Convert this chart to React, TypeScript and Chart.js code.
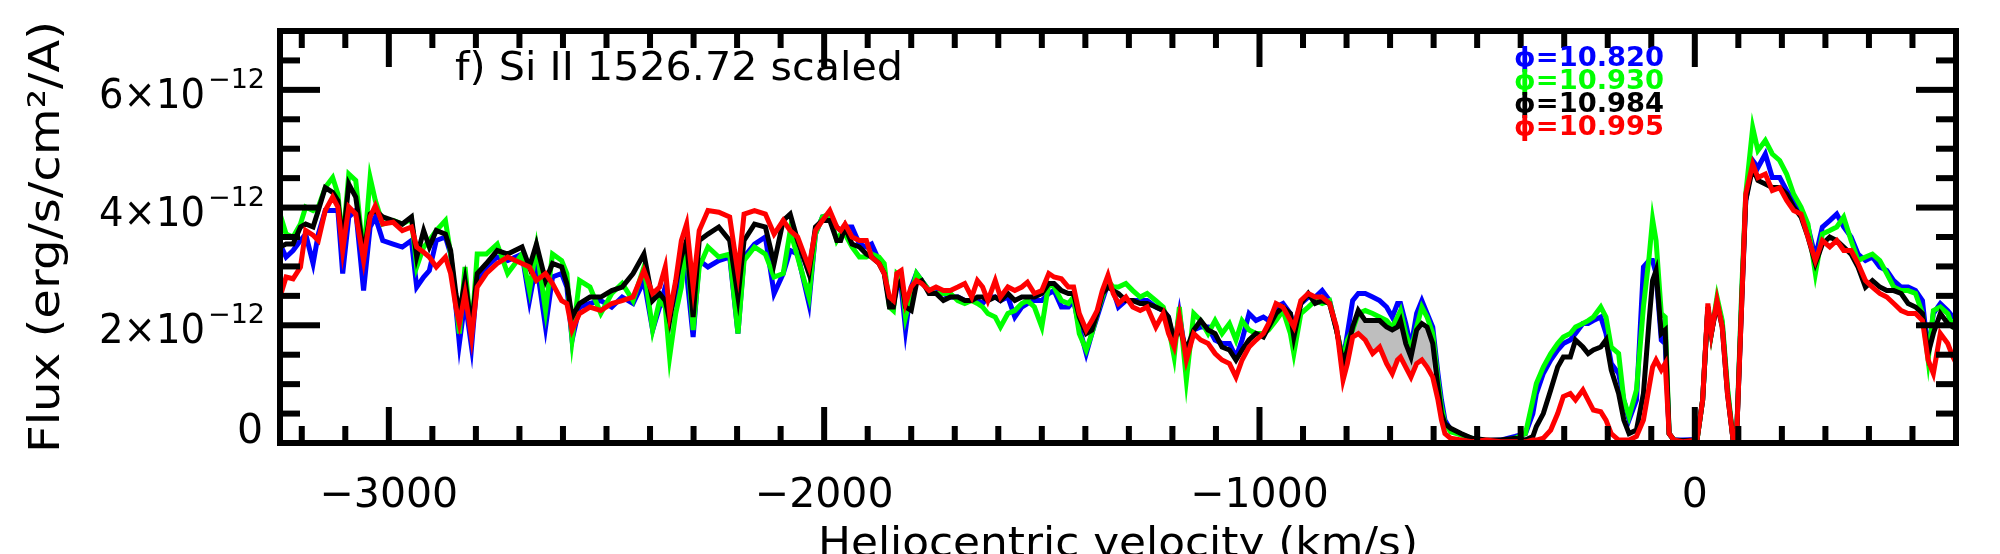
import React, { useEffect, useRef } from "react";
import { Chart, registerables } from "chart.js";

Chart.register(...registerables);

// Heliocentric velocity grid (km/s)
const velocityKms = [
  -3250, -3236, -3220, -3203, -3191, -3174, -3162, -3146, -3129, -3117,
  -3106, -3092, -3076, -3058, -3043, -3031, -3014, -2990, -2969, -2948,
  -2936, -2920, -2907, -2891, -2870, -2858, -2846, -2838, -2825, -2810,
  -2797, -2776, -2751, -2727, -2694, -2677, -2661, -2640, -2624, -2603,
  -2591, -2579, -2562, -2538, -2513, -2488, -2464, -2439, -2414, -2394,
  -2378, -2365, -2355, -2341, -2328, -2316, -2301, -2287, -2267, -2242,
  -2217, -2198, -2184, -2160, -2135, -2115, -2094, -2078, -2061, -2035,
  -2020, -2004, -1987, -1971,
  -1962, -1952, -1936, -1919, -1903, -1891, -1874, -1862, -1850, -1841,
  -1833, -1823, -1813, -1800, -1788, -1776, -1759, -1743, -1726, -1710,
  -1693, -1677, -1661, -1648, -1636, -1624, -1607, -1595, -1578, -1562,
  -1546, -1533, -1517, -1500, -1484, -1472, -1455, -1439, -1427, -1414,
  -1398, -1385, -1373, -1361, -1348, -1336, -1324, -1307, -1291, -1274,
  -1258, -1238, -1221, -1209, -1196, -1184, -1168, -1151, -1135, -1118,
  -1102, -1086, -1069, -1054, -1040, -1024, -1008, -991, -979, -962,
  -946, -929, -921, -905, -888, -872, -856, -839, -823, -808,
  -798, -786, -773, -757, -740, -724, -708, -695, -683,
  -676, -664, -652, -639, -627, -615, -602, -590, -582, -574,
  -561, -537, -512, -479, -446, -413, -389, -372, -364, -348,
  -331, -315, -302, -286, -274, -257, -245, -233, -216, -204,
  -192, -175, -163, -151, -134, -118, -105, -97, -89, -77,
  -68, -59, -48, -27, 5, 18, 30, 38, 51, 63,
  75, 88, 96, 108, 117, 133, 145, 162, 178, 195,
  211, 227, 244, 260, 277, 293, 310, 326, 342, 359,
  375, 392, 408, 425, 441, 457, 474, 490, 507, 523,
  536, 548, 564, 581, 593, 605,
];

// Flux in units of 1e-12 erg/s/cm^2/A
// phi = 10.820 (blue)
const fluxPhi10820 = [
  3.38, 3.16, 3.27, 3.44, 3.55, 3.05, 3.55, 3.95, 3.95, 3.95,
  2.88, 3.84, 3.95, 2.59, 3.67, 3.84, 3.44, 3.38, 3.33, 3.44,
  2.65, 2.82, 2.93, 3.44, 3.50, 3.21, 2.31, 1.69, 2.42, 1.63,
  2.76, 2.99, 3.16, 3.10, 3.21, 2.42, 3.05, 1.97, 2.82, 2.88,
  2.65, 1.75, 2.31, 2.37, 2.42, 2.31, 2.48, 2.37, 2.76, 1.92,
  2.31, 2.65, 2.20, 2.48, 2.99, 2.88, 1.80, 3.10, 2.99, 3.10,
  3.16, 1.86, 3.16, 3.38, 3.50, 2.54, 2.88, 3.27, 3.21, 2.37,
  3.55, 3.84, 3.84, 3.67,
  3.61, 3.67, 3.67, 3.38, 3.33, 3.38, 3.10, 2.93, 2.37, 2.31,
  2.76, 2.65, 1.92, 2.65, 2.88, 2.76, 2.59, 2.59, 2.54, 2.48,
  2.48, 2.42, 2.42, 2.42, 2.37, 2.48, 2.48, 2.42, 2.48, 2.14,
  2.31, 2.37, 2.42, 2.42, 2.54, 2.59, 2.31, 2.31, 2.42, 1.97,
  1.52, 1.86, 2.14, 2.42, 2.71, 2.59, 2.31, 2.42, 2.42, 2.42,
  2.42, 2.31, 2.25, 2.14, 1.63, 2.20, 1.41, 1.92, 1.97, 1.97,
  1.75, 1.69, 1.69, 1.46, 1.75, 2.20, 2.08, 2.14, 2.08, 2.31,
  2.37, 2.20, 1.97, 2.37, 2.48, 2.48, 2.59, 2.42, 1.92, 1.41,
  1.86, 2.42, 2.54, 2.54, 2.48, 2.42, 2.31, 2.14, 2.37,
  2.37, 2.03, 1.63, 2.20, 2.42, 2.20, 1.97, 1.18, 0.73, 0.39,
  0.22, 0.14, 0.08, 0.04, 0.05, 0.11, 0.16, 0.50, 0.84, 1.18,
  1.41, 1.58, 1.69, 1.75, 1.86, 2.03, 2.03, 2.08, 2.14, 1.86,
  1.35, 1.18, 0.73, 0.39, 0.73, 2.99, 3.10, 3.10, 2.88, 1.75,
  1.69, 0.16, 0.05, 0.05, 0.06, 0.73, 2.31, 1.86, 2.42, 2.03,
  0.90, 0.05, 0.11, 2.54, 4.12, 4.80, 4.68, 4.91, 4.51, 4.51,
  4.29, 4.12, 3.89, 3.67, 3.16, 3.67, 3.78, 3.89, 3.67, 3.50,
  3.21, 3.10, 3.16, 2.99, 2.93, 2.76, 2.65, 2.65, 2.59, 2.42,
  1.52, 2.20, 2.37, 2.25, 2.14, 2.14,
];

// phi = 10.930 (green)
const fluxPhi10930 = [
  3.89, 3.55, 3.50, 3.72, 4.01, 3.95, 4.01, 4.34, 4.51, 4.23,
  3.38, 4.57, 4.46, 3.16, 4.51, 4.12, 3.72, 3.78, 3.72, 3.81,
  2.99, 3.33, 3.44, 3.61, 3.78, 3.21, 2.42, 1.86, 2.99, 1.86,
  3.21, 3.21, 3.38, 2.88, 3.21, 2.59, 3.33, 2.25, 3.21, 3.10,
  2.88, 1.75, 2.76, 2.65, 2.20, 2.54, 2.71, 2.42, 2.99, 1.92,
  2.42, 2.31, 1.46, 2.20, 2.65, 3.44, 1.92, 2.99, 3.33, 3.16,
  3.21, 1.86, 3.10, 3.33, 3.21, 2.82, 2.88, 3.61, 3.16, 2.48,
  3.55, 3.84, 3.89, 3.44,
  3.55, 3.55, 3.33, 3.16, 3.16, 3.21, 3.16, 3.05, 2.31, 2.25,
  2.88, 2.82, 2.14, 2.54, 2.88, 2.76, 2.59, 2.54, 2.54, 2.54,
  2.42, 2.37, 2.42, 2.37, 2.31, 2.20, 2.14, 1.97, 2.20, 2.25,
  2.37, 2.42, 2.31, 1.97, 2.71, 2.65, 2.42, 2.37, 2.48, 1.86,
  1.58, 1.86, 2.20, 2.48, 2.76, 2.65, 2.65, 2.71, 2.59, 2.48,
  2.54, 2.42, 2.31, 1.97, 1.46, 2.31, 1.07, 2.20, 2.08, 1.86,
  2.08, 1.86, 2.03, 1.75, 2.08, 1.92, 1.86, 1.86, 1.92, 2.08,
  2.25, 1.86, 1.52, 2.20, 2.31, 2.42, 2.37, 2.42, 1.92, 1.41,
  1.75, 1.92, 2.20, 2.25, 2.20, 2.14, 2.08, 1.97, 2.14,
  2.25, 1.86, 1.58, 1.97, 2.31, 2.14, 1.86, 1.07, 0.62, 0.33,
  0.19, 0.14, 0.08, 0.04, 0.03, 0.08, 0.16, 0.73, 1.01, 1.29,
  1.52, 1.69, 1.80, 1.86, 1.97, 2.03, 2.08, 2.14, 2.31, 2.14,
  1.63, 1.52, 0.73, 0.45, 0.90, 2.31, 3.16, 3.80, 3.44, 2.20,
  2.14, 0.16, 0.05, 0.02, 0.04, 0.73, 2.31, 1.86, 2.48, 2.08,
  0.95, 0.05, 0.11, 2.65, 4.23, 5.36, 4.97, 5.14, 4.91, 4.80,
  4.57, 4.23, 4.01, 3.72, 2.88, 3.55, 3.61, 3.67, 3.84, 3.44,
  3.10, 3.16, 3.21, 3.10, 2.88, 2.65, 2.59, 2.59, 2.54, 2.20,
  1.41, 2.25, 2.31, 2.20, 1.97, 1.92,
];

// phi = 10.984 (black)
const fluxPhi10984 = [
  3.33, 3.38, 3.38, 3.67, 3.72, 3.67, 3.95, 4.34, 4.26, 4.12,
  3.38, 4.40, 4.18, 3.21, 3.89, 3.95, 3.84, 3.78, 3.72, 3.84,
  3.16, 3.61, 3.33, 3.61, 3.55, 3.27, 2.54, 2.20, 2.76, 1.97,
  2.88, 3.05, 3.27, 3.21, 3.33, 2.99, 3.38, 2.76, 3.05, 2.99,
  2.71, 2.14, 2.37, 2.48, 2.48, 2.59, 2.65, 2.88, 3.21, 2.42,
  2.54, 2.42, 2.08, 2.71, 3.16, 3.44, 2.14, 3.44, 3.55, 3.67,
  3.44, 2.48, 3.44, 3.72, 3.67, 3.05, 3.78, 3.89, 3.44, 2.88,
  3.67, 3.78, 3.78, 3.44,
  3.44, 3.67, 3.38, 3.33, 3.21, 3.16, 3.05, 2.88, 2.31, 2.31,
  2.65, 2.76, 2.31, 2.25, 2.71, 2.76, 2.54, 2.54, 2.42, 2.48,
  2.48, 2.42, 2.42, 2.48, 2.48, 2.42, 2.48, 2.42, 2.54, 2.42,
  2.48, 2.48, 2.48, 2.54, 2.71, 2.71, 2.59, 2.54, 2.54, 2.14,
  1.86, 1.92, 2.20, 2.54, 2.65, 2.59, 2.54, 2.42, 2.42, 2.37,
  2.37, 2.31, 2.25, 2.14, 1.75, 1.97, 1.58, 1.92, 2.08, 1.92,
  1.86, 1.63, 1.58, 1.41, 1.58, 1.75, 1.86, 1.80, 1.97, 2.20,
  2.31, 2.20, 1.80, 2.37, 2.54, 2.37, 2.42, 2.37, 1.92, 1.35,
  1.58, 1.97, 2.25, 2.08, 2.08, 2.08, 1.97, 1.92, 1.97,
  2.08, 1.69, 1.46, 1.92, 2.03, 1.97, 1.69, 0.95, 0.50, 0.33,
  0.25, 0.16, 0.08, 0.05, 0.05, 0.08, 0.05, 0.11, 0.28, 0.50,
  0.90, 1.29, 1.46, 1.46, 1.75, 1.63, 1.52, 1.58, 1.63, 1.75,
  1.24, 0.84, 0.39, 0.16, 0.22, 0.84, 2.08, 2.76, 2.93, 1.86,
  1.92, 0.16, 0.05, 0.04, 0.05, 0.73, 2.31, 1.86, 2.37, 1.97,
  0.84, 0.05, 0.11, 2.42, 4.12, 4.68, 4.46, 4.40, 4.34, 4.34,
  4.23, 4.01, 3.84, 3.50, 3.05, 3.38, 3.50, 3.44, 3.33, 3.21,
  2.99, 2.65, 2.76, 2.65, 2.59, 2.59, 2.54, 2.37, 2.31, 2.20,
  1.52, 1.86, 2.20, 2.03, 1.97, 1.97,
];

// phi = 10.995 (red)
const fluxPhi10995 = [
  2.48, 2.82, 2.79, 2.99, 3.61, 3.53, 3.44, 3.95, 4.18, 4.01,
  3.27, 4.01, 3.89, 3.10, 3.84, 4.03, 3.72, 3.75, 3.61, 3.67,
  3.33, 3.24, 3.16, 2.99, 3.16, 2.88, 2.31, 2.03, 2.54, 1.80,
  2.65, 2.88, 3.05, 3.16, 3.05, 2.99, 2.76, 2.88, 2.71, 2.42,
  2.37, 1.92, 2.20, 2.31, 2.25, 2.37, 2.42, 2.48, 2.93, 2.54,
  2.65, 2.99, 2.20, 2.76, 3.44, 3.72, 2.65, 3.61, 3.95, 3.92,
  3.84, 2.88, 3.89, 3.95, 3.89, 3.55, 3.78, 3.61, 3.50, 2.99,
  3.61, 3.78, 3.95, 3.67,
  3.61, 3.72, 3.50, 3.44, 3.44, 3.16, 3.05, 2.88, 2.48, 2.42,
  2.88, 2.93, 2.37, 2.65, 2.76, 2.71, 2.59, 2.65, 2.59, 2.59,
  2.65, 2.71, 2.48, 2.76, 2.65, 2.42, 2.76, 2.48, 2.65, 2.59,
  2.65, 2.73, 2.54, 2.59, 2.88, 2.82, 2.79, 2.65, 2.65, 2.20,
  1.92, 2.08, 2.25, 2.59, 2.85, 2.54, 2.37, 2.48, 2.31, 2.25,
  2.31, 1.97, 2.20, 1.86, 1.63, 2.14, 1.41, 1.86, 1.75, 1.69,
  1.52, 1.41, 1.35, 1.12, 1.41, 1.63, 1.75, 1.86, 2.03, 2.37,
  2.31, 2.08, 1.97, 2.42, 2.54, 2.48, 2.48, 2.37, 1.97, 1.07,
  1.35, 1.80, 1.86, 1.75, 1.52, 1.63, 1.35, 1.18, 1.41,
  1.46, 1.29, 1.12, 1.35, 1.41, 1.29, 1.12, 0.73, 0.39, 0.16,
  0.08, 0.05, 0.02, 0.05, 0.02, 0.02, 0.02, 0.05, 0.05, 0.08,
  0.22, 0.50, 0.79, 0.84, 0.73, 0.90, 0.73, 0.56, 0.53, 0.39,
  0.16, 0.05, 0.05, 0.05, 0.11, 0.39, 0.95, 1.29, 1.41, 1.24,
  1.35, 0.16, 0.05, 0.02, 0.05, 0.73, 2.37, 1.86, 2.42, 1.97,
  0.84, 0.05, 0.11, 2.42, 4.23, 4.74, 4.51, 4.57, 4.29, 4.34,
  4.12, 3.95, 3.89, 3.50, 3.10, 3.44, 3.33, 3.44, 3.27, 3.27,
  3.05, 2.76, 2.65, 2.54, 2.48, 2.37, 2.25, 2.20, 2.20, 2.08,
  1.41, 1.18, 1.86, 1.69, 1.46, 1.29,
];

const legendLabels = ["ϕ=10.820", "ϕ=10.930", "ϕ=10.984", "ϕ=10.995"];
const seriesColors = ["#0000ff", "#00ff00", "#000000", "#ff0000"];
const xMajorTicks = [-3000, -2000, -1000, 0];
const yMajorTicks = [0, 2, 4, 6]; // x 1e-12
const shadeRange = [-790, -598]; // velocity span shaded between phi=10.984 and phi=10.995
const panelTitle = "f) Si II 1526.72 scaled";
const xTitle = "Heliocentric velocity (km/s)";
const yTitle = "Flux (erg/s/cm²/A)";
const UNIT = 1e-12;

const FONT = "'DejaVu Sans', 'Liberation Sans', sans-serif";

function fitText(ctx: CanvasRenderingContext2D, text: string, x: number, y: number, targetW: number, align: CanvasTextAlign) {
  const w = ctx.measureText(text).width;
  const s = targetW / w;
  ctx.save();
  ctx.translate(x, y);
  ctx.scale(s, 1);
  ctx.textAlign = align;
  ctx.fillText(text, 0, 0);
  ctx.restore();
}

const idlFrame = {
  id: "idlFrame",
  afterDraw(chart: any) {
    const ctx: CanvasRenderingContext2D = chart.ctx;
    const { left, right, top, bottom } = chart.chartArea;
    const xs = chart.scales.x;
    const ys = chart.scales.y;
    ctx.save();
    ctx.fillStyle = "#000";
    ctx.strokeStyle = "#000";
    ctx.lineWidth = 6;
    ctx.strokeRect(left, top, right - left, bottom - top);

    // x ticks (bottom and top)
    for (let v = -3200; v <= 600; v += 100) {
      const px = xs.getPixelForValue(v);
      if (px < left + 4 || px > right - 4) continue;
      const major = v % 1000 === 0;
      const len = major ? 36 : 17;
      ctx.fillRect(px - 3, bottom - len, 6, len);
      ctx.fillRect(px - 3, top, 6, len);
    }
    // y ticks (left and right)
    for (let u = 0; u <= 7; u += 0.5) {
      const py = ys.getPixelForValue(u * UNIT);
      if (py < top + 4 || py > bottom - 4) continue;
      const major = u % 2 === 0;
      const len = major ? 40 : 20;
      ctx.fillRect(left, py - 3, len, 6);
      ctx.fillRect(right - len, py - 3, len, 6);
    }

    // x tick labels
    ctx.font = `41px ${FONT}`;
    ctx.textBaseline = "alphabetic";
    ctx.textAlign = "center";
    for (const v of xMajorTicks) {
      const px = xs.getPixelForValue(v);
      const txt = v < 0 ? "\u2212" + Math.abs(v) : String(v);
      ctx.fillText(txt, px, 507);
    }

    // y tick labels
    const labelRight = 265;
    for (const u of yMajorTicks) {
      const py = ys.getPixelForValue(u * UNIT);
      const base = Math.min(py + 18, bottom);
      if (u === 0) {
        ctx.font = `41px ${FONT}`;
        ctx.textAlign = "right";
        ctx.fillText("0", labelRight - 2, base);
        continue;
      }
      ctx.font = `27px ${FONT}`;
      ctx.textAlign = "right";
      const sup = "\u221212";
      const sw = ctx.measureText(sup).width;
      ctx.fillText(sup, labelRight, base - 20);
      ctx.font = `41px ${FONT}`;
      fitText(ctx, `${u}×10`, labelRight - sw - 3, base, 106, "right");
    }

    // axis titles
    ctx.font = `41px ${FONT}`;
    fitText(ctx, xTitle, (left + right) / 2, 556, 600, "center");
    ctx.save();
    ctx.translate(59, (top + bottom) / 2);
    ctx.rotate(-Math.PI / 2);
    ctx.font = `43px ${FONT}`;
    fitText(ctx, yTitle, 0, 0, 432, "center");
    ctx.restore();

    // panel title
    ctx.font = `39px ${FONT}`;
    fitText(ctx, panelTitle, 455, 80, 448, "left");

    // legend
    ctx.font = `bold 27px ${FONT}`;
    const baselines = [66, 89, 112, 135];
    legendLabels.forEach((lab, i) => {
      ctx.fillStyle = seriesColors[i];
      fitText(ctx, lab, 1514, baselines[i], 150, "left");
    });
    ctx.restore();
  },
};

export default function App() {
  const ref = useRef<HTMLCanvasElement>(null);
  useEffect(() => {
    const canvas = ref.current;
    if (!canvas) return;
    const toPoints = (arr: number[]) => velocityKms.map((v, i) => ({ x: v, y: arr[i] * UNIT }));
    const inShade = (v: number) => v >= shadeRange[0] && v <= shadeRange[1];
    const shadeUpper = toPoints(fluxPhi10984).filter((p) => inShade(p.x));
    const shadeLower = toPoints(fluxPhi10995).filter((p) => inShade(p.x));
    const series = [fluxPhi10820, fluxPhi10930, fluxPhi10984, fluxPhi10995];

    const lineDs = series.map((arr, i) => ({
      label: legendLabels[i],
      data: toPoints(arr),
      borderColor: seriesColors[i],
      backgroundColor: seriesColors[i],
      borderWidth: 5,
      pointRadius: 0,
      fill: false,
      tension: 0,
      order: 3 - i,
    }));

    const chart = new Chart(canvas, {
      type: "line",
      data: {
        datasets: [
          ...lineDs,
          {
            label: "shadeUpper",
            data: shadeUpper,
            borderWidth: 0,
            borderColor: "rgba(0,0,0,0)",
            backgroundColor: "#bebebe",
            pointRadius: 0,
            fill: "+1",
            order: 10,
          },
          {
            label: "shadeLower",
            data: shadeLower,
            borderWidth: 0,
            borderColor: "rgba(0,0,0,0)",
            backgroundColor: "rgba(0,0,0,0)",
            pointRadius: 0,
            fill: false,
            order: 11,
          },
        ] as any,
      },
      options: {
        responsive: false,
        animation: false,
        devicePixelRatio: 1,
        layout: { padding: { left: 280, right: 44, top: 31, bottom: 111 } },
        plugins: {
          legend: { display: false },
          tooltip: { enabled: false },
        },
        elements: { line: { borderJoinStyle: "miter", borderCapStyle: "butt" } },
        scales: {
          x: { type: "linear", min: -3250, max: 600, display: false },
          y: { type: "linear", min: 0, max: 7 * UNIT, display: false },
        },
      } as any,
      plugins: [idlFrame],
    });
    return () => chart.destroy();
  }, []);

  return (
    <div style={{ position: "fixed", left: 0, top: 0, width: 2000, height: 554, background: "#fff", overflow: "hidden" }}>
      <canvas ref={ref} width={2000} height={554} style={{ display: "block", width: 2000, height: 554 }} />
    </div>
  );
}
